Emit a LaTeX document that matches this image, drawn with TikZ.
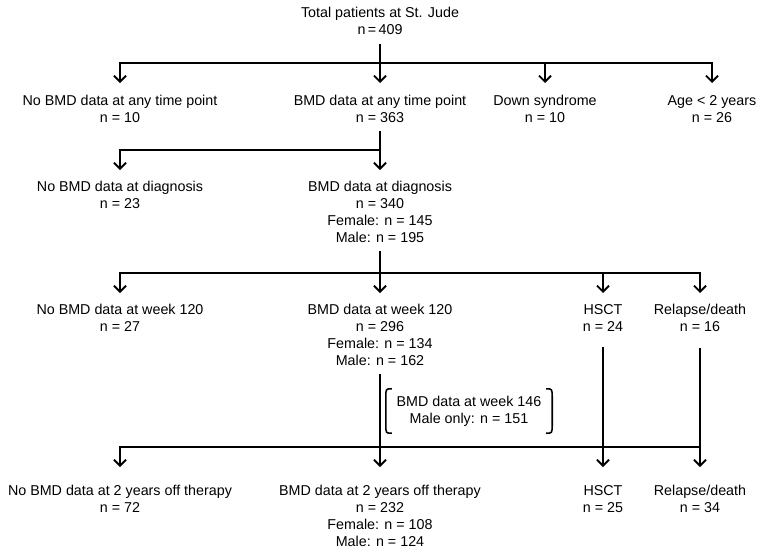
\documentclass[tikz,border=0pt]{standalone}
\usepackage{fontspec}
\setmainfont{Liberation Sans}
\usetikzlibrary{arrows.meta}
\newcommand\figfont{\fontsize{14.3}{17}\selectfont}
\tikzset{
  lbl/.style={font=\figfont, align=center, anchor=north, inner sep=0pt},
  ln/.style={line width=1.8pt},
  hln/.style={line width=1.8pt, line cap=rect},
  arr/.style={line width=1.8pt, -{Straight Barb[length=6pt,width=12pt]}},
  brk/.style={line width=1.6pt},
}
\begin{document}
\begin{tikzpicture}[x=1pt,y=-1pt]
\useasboundingbox (0,0) rectangle (763,555);
% level 0
\node[lbl] (t) at (380,7) {Total patients at St. Jude\\n\,=\,409};
% level 1
\node[lbl] (a1) at (120,95) {No BMD data at any time point\\n = 10};
\node[lbl] (a2) at (380,95) {BMD data at any time point\\n = 363};
\node[lbl] (a3) at (545,95) {Down syndrome\\n = 10};
\node[lbl] (a4) at (712,95) {Age < 2 years\\n = 26};
% level 2
\node[lbl] (b1) at (120,181) {No BMD data at diagnosis\\n = 23};
\node[lbl] (b2) at (380,181) {BMD data at diagnosis\\n = 340\\Female: n = 145\\Male: n = 195};
% level 3
\node[lbl] (c1) at (120,304) {No BMD data at week 120\\n = 27};
\node[lbl] (c2) at (380,304) {BMD data at week 120\\n = 296\\Female: n = 134\\Male: n = 162};
\node[lbl] (c3) at (603,304) {HSCT\\n = 24};
\node[lbl] (c4) at (700,304) {Relapse/death\\n = 16};
% bracket note
\node[font=\figfont, align=center, inner sep=0pt, minimum width=166pt, minimum height=44pt] (e) at (469,411) {BMD data at week 146\\Male only: n = 151};
% level 4
\node[lbl] (d1) at (120,485) {No BMD data at 2 years off therapy\\n = 72};
\node[lbl] (d2) at (380,485) {BMD data at 2 years off therapy\\n = 232\\Female: n = 108\\Male: n = 124};
\node[lbl] (d3) at (603,485) {HSCT\\n = 25};
\node[lbl] (d4) at (700,485) {Relapse/death\\n = 34};

% connectors level 1
\coordinate (j1) at (380,63);
\draw[ln, shorten <=9pt] (t.south) -- (j1);
\draw[hln] (j1 -| a1.north) -- (j1 -| a4.north);
\foreach \n in {a1,a2,a3,a4}
  \draw[arr, shorten >=12pt] (j1 -| \n.north) -- (\n.north);
% level 2
\coordinate (j2) at (380,150);
\draw[ln, shorten <=8pt] (a2.south) -- (j2);
\draw[hln] (j2 -| b1.north) -- (j2);
\foreach \n in {b1,b2}
  \draw[arr, shorten >=11pt] (j2 -| \n.north) -- (\n.north);
% level 3
\coordinate (j3) at (380,273);
\draw[ln, shorten <=8pt] (b2.south) -- (j3);
\draw[hln] (j3 -| c1.north) -- (j3 -| c4.north);
\foreach \n in {c1,c2,c3,c4}
  \draw[arr, shorten >=11pt] (j3 -| \n.north) -- (\n.north);
% level 4
\coordinate (j4) at (380,446.7);
\draw[hln] (j4 -| d1.north) -- (j4 -| d4.north);
\draw[arr, shorten >=18pt] (j4 -| d1.north) -- (d1.north);
\draw[arr, shorten <=8pt, shorten >=18pt] (c2.south) -- (d2.north);
\draw[arr, shorten <=16pt, shorten >=18pt] (c3.south) -- (d3.north);
\draw[arr, shorten <=16pt, shorten >=18pt] (c4.south) -- (d4.north);
% brackets
\draw[brk] ([xshift=6pt]e.north west) .. controls (e.north west) .. ([yshift=-9pt]e.north west)
  -- ([yshift=9pt]e.south west) .. controls (e.south west) .. ([xshift=6pt]e.south west);
\draw[brk] ([xshift=-6pt]e.north east) .. controls (e.north east) .. ([yshift=-9pt]e.north east)
  -- ([yshift=9pt]e.south east) .. controls (e.south east) .. ([xshift=-6pt]e.south east);
\end{tikzpicture}
\end{document}
